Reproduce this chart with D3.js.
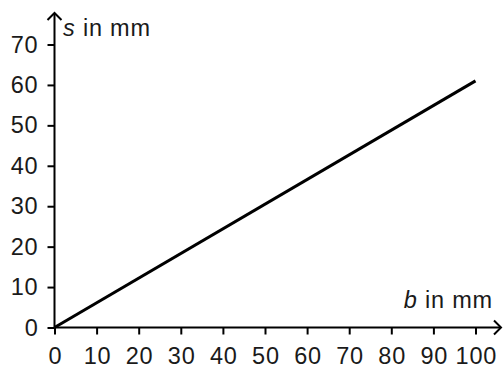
<!DOCTYPE html>
<html>
<head>
<meta charset="utf-8">
<script src="https://cdn.jsdelivr.net/npm/d3@7"></script>
<style>
  body { margin: 0; background: #fff; }
  svg text { font-family: "Liberation Sans", Arial, sans-serif; fill: #1a1a1a; letter-spacing: 0.8px; }
</style>
</head>
<body>
<svg id="chart" width="503" height="367"></svg>
<script>
var bValues = [0, 100],
    sValues = [0, 61],
    xTicks = [0, 10, 20, 30, 40, 50, 60, 70, 80, 90, 100],
    yTicks = [0, 10, 20, 30, 40, 50, 60, 70];

var svg = d3.select("#chart");
var fontSize = 23.5;

var x = d3.scaleLinear().domain([0, 100]).range([54.5, 475.5]);
var y = d3.scaleLinear().domain([0, 70]).range([327.5, 44.5]);

function drawAxes() {
  var xAxis = svg.append("g")
    .attr("transform", "translate(0," + y(0) + ")")
    .call(d3.axisBottom(x).tickValues(xTicks).tickSize(7).tickPadding(13).tickFormat(d3.format("d")));
  xAxis.select(".domain").remove();
  xAxis.selectAll(".tick line").attr("stroke", "#000").attr("stroke-width", 2);
  xAxis.selectAll("text").attr("font-size", fontSize).attr("fill", "#1a1a1a").attr("dx", 0.4);

  var yAxis = svg.append("g")
    .attr("transform", "translate(" + x(0) + ",0)")
    .call(d3.axisLeft(y).tickValues(yTicks).tickSize(7).tickPadding(9).tickFormat(d3.format("d")));
  yAxis.select(".domain").remove();
  yAxis.selectAll(".tick line").attr("stroke", "#000").attr("stroke-width", 2);
  yAxis.selectAll("text").attr("font-size", fontSize).attr("fill", "#1a1a1a");

  // axis lines with open arrow heads
  svg.append("line")
    .attr("x1", x(0)).attr("y1", y(0))
    .attr("x2", 501).attr("y2", y(0))
    .attr("stroke", "#000").attr("stroke-width", 2);
  svg.append("path")
    .attr("d", "M494," + (y(0) - 7) + "L501," + y(0) + "L494," + (y(0) + 7))
    .attr("fill", "none").attr("stroke", "#000").attr("stroke-width", 2);

  svg.append("line")
    .attr("x1", x(0)).attr("y1", y(0))
    .attr("x2", x(0)).attr("y2", 13)
    .attr("stroke", "#000").attr("stroke-width", 2);
  svg.append("path")
    .attr("d", "M" + (x(0) - 7) + ",20L" + x(0) + ",13L" + (x(0) + 7) + ",20")
    .attr("fill", "none").attr("stroke", "#000").attr("stroke-width", 2);
}

function drawLabels() {
  var sLabel = svg.append("text").attr("x", 63).attr("y", 36).attr("font-size", fontSize);
  sLabel.append("tspan").attr("font-style", "italic").text("s");
  sLabel.append("tspan").text(" in mm");

  var bLabel = svg.append("text").attr("x", 493).attr("y", 308)
    .attr("font-size", fontSize).attr("text-anchor", "end");
  bLabel.append("tspan").attr("font-style", "italic").text("b");
  bLabel.append("tspan").text(" in mm");
}

drawAxes();

var line = d3.line()
  .x(function(d, i) { return x(bValues[i]); })
  .y(function(d) { return y(d); });

svg.append("path")
  .datum(sValues)
  .attr("d", line)
  .attr("fill", "none")
  .attr("stroke", "#000")
  .attr("stroke-width", 3);

drawLabels();
</script>
</body>
</html>
